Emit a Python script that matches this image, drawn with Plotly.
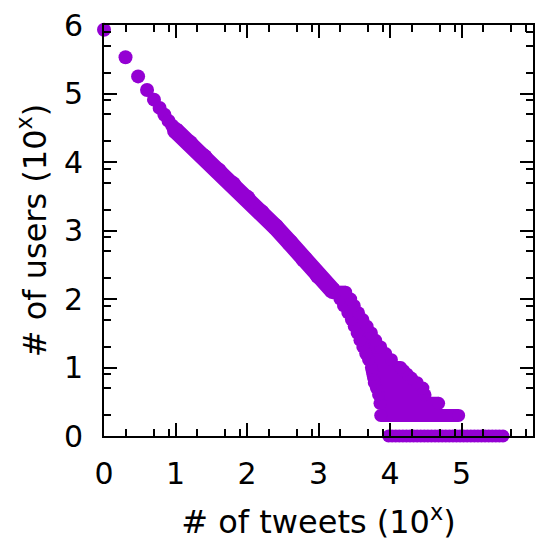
import math
import plotly.graph_objects as go

PURPLE = "#9400D3"
FONT = "DejaVu Sans"

# log10(# of tweets) vs log10(# of users) -- first separated points (n = 1..9 tweets)
head_x = [0.0, 0.301, 0.477, 0.602, 0.699, 0.778, 0.845, 0.903, 0.954]
head_y = [5.93, 5.53, 5.25, 5.05, 4.91, 4.79, 4.69, 4.60, 4.53]

# dense band of points (read along its centre)
band_x = [1.0, 1.2, 1.4, 1.6, 1.8, 2.0, 2.2, 2.4, 2.6, 2.8, 3.0, 3.2]
band_y = [4.46, 4.27, 4.07, 3.87, 3.67, 3.47, 3.26, 3.05, 2.82, 2.58, 2.34, 2.12]

# tail: tweet counts seen by exactly one user (log10 users = 0)
single_x = [3.98, 4.03, 4.08, 4.13, 4.18, 4.23, 4.28, 4.33, 4.38, 4.43, 4.48,
            4.53, 4.58, 4.63, 4.68, 4.73, 4.78, 4.83, 4.88, 4.93, 4.98, 5.03,
            5.08, 5.13, 5.18, 5.23, 5.28, 5.33, 5.38, 5.43, 5.48, 5.53, 5.58]
single_y = [0.0] * len(single_x)

# tail: rows of users count levels (log10 of counts), with their x extent
row_y = [0.301, 0.477, 0.602, 0.699, 0.778, 0.845, 0.903, 0.954, 1.0,
         1.114, 1.204, 1.301, 1.398, 1.505, 1.602, 1.699, 1.799, 1.903, 2.0, 2.1]
row_start = [3.87, 3.86, 3.84, 3.81, 3.78, 3.77, 3.76, 3.75, 3.74,
             3.70, 3.66, 3.62, 3.58, 3.54, 3.50, 3.46, 3.41, 3.35, 3.30, 3.24]
row_end = [4.96, 4.68, 4.49, 4.46, 4.38, 4.30, 4.24, 4.19, 4.15,
           4.02, 3.94, 3.87, 3.80, 3.74, 3.68, 3.62, 3.56, 3.50, 3.45, 3.38]

tick_vals = [0, 1, 2, 3, 4, 5, 6]
tick_text = ["0", "1", "2", "3", "4", "5", "6"]

minor_vals = []
for i in range(6):
    for m in (2, 5, 8):
        minor_vals.append(i + math.log10(m))

rx, ry = [], []
for yv, a, b in zip(row_y, row_start, row_end):
    rx += [a, b, None]
    ry += [yv, yv, None]

fig = go.Figure()
fig.add_trace(go.Scatter(x=head_x, y=head_y, mode="markers",
                         marker=dict(size=14, color=PURPLE, line=dict(width=0)),
                         cliponaxis=False, showlegend=False))
fig.add_trace(go.Scatter(x=band_x, y=band_y, mode="lines+markers",
                         line=dict(width=17, color=PURPLE),
                         marker=dict(size=17, color=PURPLE, line=dict(width=0)),
                         cliponaxis=False, showlegend=False))
fig.add_trace(go.Scatter(x=rx, y=ry, mode="lines+markers", connectgaps=False,
                         line=dict(width=13, color=PURPLE),
                         marker=dict(size=13, color=PURPLE, line=dict(width=0)),
                         cliponaxis=False, showlegend=False))
fig.add_trace(go.Scatter(x=single_x, y=single_y, mode="markers",
                         marker=dict(size=13, color=PURPLE, line=dict(width=0)),
                         cliponaxis=False, showlegend=False))

axis_common = dict(
    range=[0, 6], tickmode="array", tickvals=tick_vals, ticktext=tick_text,
    ticks="inside", ticklen=13, tickwidth=1.5, tickcolor="black",
    minor=dict(tickmode="array", tickvals=minor_vals, ticks="inside",
               ticklen=7, tickwidth=1.5, tickcolor="black"),
    showline=True, linewidth=2, linecolor="black", mirror="ticks",
    showgrid=False, zeroline=False,
    tickfont=dict(family=FONT, size=30, color="black"),
)

fig.update_layout(
    width=542, height=545,
    margin=dict(l=104, r=7, t=24, b=109),
    paper_bgcolor="white", plot_bgcolor="white",
    xaxis=dict(**axis_common, ticklabelstandoff=10,
               title=dict(text="# of tweets (10<sup>x</sup>)",
                          font=dict(family=FONT, size=32, color="black"),
                          standoff=21)),
    yaxis=dict(**axis_common, ticklabelstandoff=13,
               title=dict(text="# of users (10<sup>x</sup>)",
                          font=dict(family=FONT, size=32, color="black"),
                          standoff=8)),
)

fig.write_html("out.html", config={"displayModeBar": False},
               post_script="document.body.style.margin='0';document.body.style.overflow='hidden';")
